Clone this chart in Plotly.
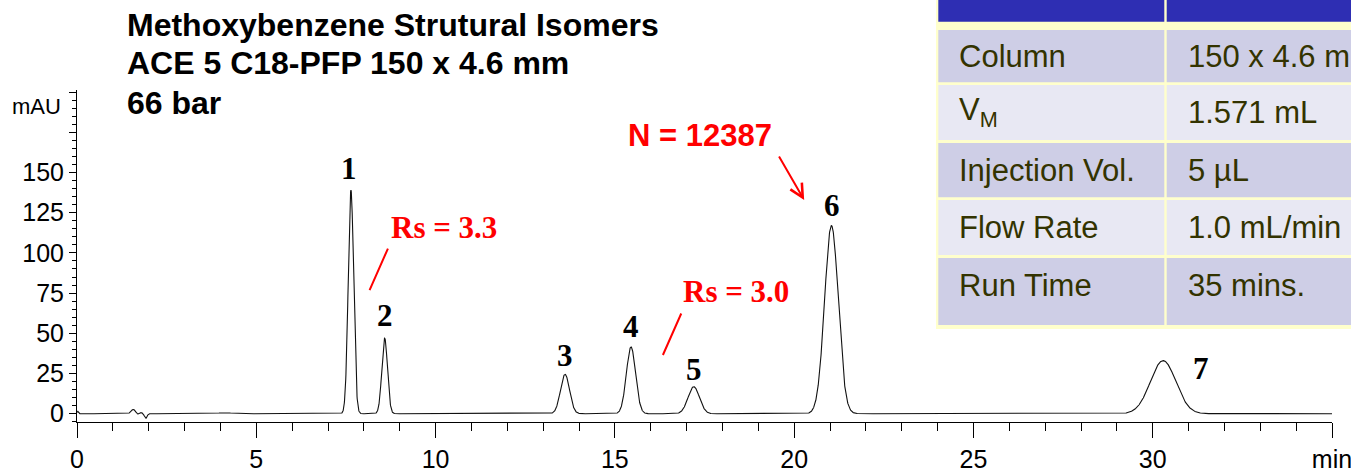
import numpy as np
import plotly.graph_objects as go

# ---------------- data ----------------
peak_labels = ["1", "2", "3", "4", "5", "6", "7"]
peak_times = [7.64, 8.58, 13.61, 15.45, 17.20, 21.04, 30.29]      # min
peak_heights = [139.0, 47.0, 24.5, 41.5, 16.8, 117.0, 33.0]       # mAU
peak_sigmas = [0.075, 0.078, 0.126, 0.128, 0.158, 0.19, 0.355]    # min

# small baseline disturbances (injection / solvent front)
dist_times = [0.02, 0.93, 1.57, 1.68, 1.79, 1.92, 4.10]
dist_heights = [1.5, 0.3, 2.7, -0.6, 0.7, -2.9, 0.6]
dist_sigmas = [0.02, 0.06, 0.06, 0.03, 0.03, 0.035, 0.20]

# peak-number label positions (min, mAU)
label_x = [7.59, 8.58, 13.62, 15.46, 17.20, 21.06, 31.35]
label_y = [152.6, 60.8, 36.0, 54.1, 27.2, 129.3, 28.2]

x_tick_vals = [0, 5, 10, 15, 20, 25, 30, 35]
x_tick_text = ["0", "5", "10", "15", "20", "25", "30", "min"]
y_tick_vals = [0, 25, 50, 75, 100, 125, 150, 175, 200]
y_tick_text = ["0", "25", "50", "75", "100", "125", "150", "", ""]

title_lines = ["Methoxybenzene Strutural Isomers", "ACE 5 C18-PFP 150 x 4.6 mm", "66 bar"]

table_params = ["Column", "V<sub>M</sub>", "Injection Vol.", "Flow Rate", "Run Time"]
table_values = ["150 x 4.6 mm", "1.571 mL", "5 µL", "1.0 mL/min", "35 mins."]

# ---------------- build trace ----------------
t = np.linspace(0, 35, 7001)
signal = np.zeros_like(t)
for tr, h, s in zip(peak_times + dist_times, peak_heights + dist_heights, peak_sigmas + dist_sigmas):
    signal += h * np.exp(-0.5 * ((t - tr) / s) ** 2)

fig = go.Figure()
fig.add_trace(go.Scatter(x=t, y=signal, mode="lines",
                         line=dict(color="#111111", width=1.1), hoverinfo="skip"))

# ---------------- layout geometry ----------------
W, H = 1351, 470
ML, MR, MT, MB = 77, 19, 90, 48
PW, PH = W - ML - MR, H - MT - MB


def px(xpix):
    return (xpix - ML) / PW


def py(ypix):
    return (H - MB - ypix) / PH


SANS = "Liberation Sans, Arial, sans-serif"
SERIF = "Liberation Serif, Times New Roman, serif"

fig.update_layout(
    width=W, height=H, autosize=False, showlegend=False, hovermode=False,
    margin=dict(l=ML, r=MR, t=MT, b=MB, pad=0),
    paper_bgcolor="white", plot_bgcolor="white",
    xaxis=dict(range=[0, 35], tickmode="array", tickvals=x_tick_vals, ticktext=x_tick_text,
               ticks="outside", ticklen=15, tickwidth=1, tickcolor="black",
               minor=dict(dtick=1, tick0=0, ticks="outside", ticklen=8, tickwidth=1, tickcolor="black"),
               showline=True, linecolor="black", linewidth=1, showgrid=False, zeroline=False,
               automargin=False, ticklabeloverflow="allow",
               tickfont=dict(family=SANS, size=25, color="black")),
    yaxis=dict(range=[-5.16, 201.3], tickmode="array", tickvals=y_tick_vals, ticktext=y_tick_text,
               ticks="outside", ticklen=7, tickwidth=1, tickcolor="black",
               minor=dict(dtick=5, tick0=0, ticks="outside", ticklen=4, tickwidth=1, tickcolor="black"),
               showline=True, linecolor="black", linewidth=1, showgrid=False, zeroline=False,
               automargin=False, ticklabeloverflow="allow",
               tickfont=dict(family=SANS, size=25, color="black")),
)

shapes = []
annotations = []

# ---------------- table (top right) ----------------
YELLOW = "#FFFFCC"
BLUE = "#2E2EB3"
DARK = "#CECEE6"
LIGHT = "#E8E8F3"
shapes.append(dict(type="rect", xref="paper", yref="paper", x0=px(936), x1=px(1370),
                   y0=py(329), y1=py(-5), fillcolor=YELLOW, line=dict(width=0), layer="above"))
col_x = [(938.3, 1164.3), (1166.7, 1370)]
for cx0, cx1 in col_x:
    shapes.append(dict(type="rect", xref="paper", yref="paper", x0=px(cx0), x1=px(cx1),
                       y0=py(21.7), y1=py(-5), fillcolor=BLUE, line=dict(width=0), layer="above"))
row_y = [(30, 82.3), (85, 140), (143, 197.3), (200, 255), (258, 325)]
row_text_y = [56, 112, 170, 228, 285]
for i, (ry0, ry1) in enumerate(row_y):
    col = DARK if i % 2 == 0 else LIGHT
    for cx0, cx1 in col_x:
        shapes.append(dict(type="rect", xref="paper", yref="paper", x0=px(cx0), x1=px(cx1),
                           y0=py(ry1), y1=py(ry0), fillcolor=col, line=dict(width=0), layer="above"))
    annotations.append(dict(xref="paper", yref="paper", x=px(957), y=py(row_text_y[i]),
                            xanchor="left", yanchor="middle", text=table_params[i], showarrow=False,
                            font=dict(family=SANS, size=31, color="#333300")))
    annotations.append(dict(xref="paper", yref="paper", x=px(1186), y=py(row_text_y[i]),
                            xanchor="left", yanchor="middle", text=table_values[i], showarrow=False,
                            font=dict(family=SANS, size=31, color="#333300")))

# ---------------- title ----------------
title_y = [24.7, 63.3, 103.3]
for line, ty in zip(title_lines, title_y):
    annotations.append(dict(xref="paper", yref="paper", x=px(125), y=py(ty), xanchor="left",
                            yanchor="middle", text="<b>" + line + "</b>", showarrow=False,
                            font=dict(family=SANS, size=32, color="black")))

# axis unit label
annotations.append(dict(xref="paper", yref="paper", x=px(63), y=py(107), xanchor="right",
                        yanchor="middle", text="mAU", showarrow=False,
                        font=dict(family=SANS, size=22, color="black")))

# ---------------- peak numbers ----------------
for lab, lx, ly in zip(peak_labels, label_x, label_y):
    annotations.append(dict(x=lx, y=ly, xref="x", yref="y", text="<b>" + lab + "</b>", showarrow=False,
                            xanchor="center", yanchor="middle",
                            font=dict(family=SERIF, size=31, color="black")))

RED = "#FF0000"
# Resolution notes
annotations.append(dict(x=10.24, y=115.5, xref="x", yref="y", text="<b>Rs = 3.3</b>", showarrow=False,
                        font=dict(family=SERIF, size=31, color=RED)))
annotations.append(dict(x=8.16, y=76.9, xref="x", yref="y", text="", showarrow=True, arrowhead=0,
                        ax=19, ay=-43, arrowcolor=RED, arrowwidth=2))
annotations.append(dict(x=18.38, y=75.7, xref="x", yref="y", text="<b>Rs = 3.0</b>", showarrow=False,
                        font=dict(family=SERIF, size=31, color=RED)))
annotations.append(dict(x=16.34, y=36.5, xref="x", yref="y", text="", showarrow=True, arrowhead=0,
                        ax=19, ay=-43, arrowcolor=RED, arrowwidth=2))
# plate count
annotations.append(dict(x=17.38, y=173.3, xref="x", yref="y", text="<b>N = 12387</b>", showarrow=False,
                        font=dict(family=SANS, size=31, color=RED)))
annotations.append(dict(x=20.28, y=132.9, xref="x", yref="y", text="", showarrow=True, arrowhead=5,
                        arrowsize=1.3, ax=-26, ay=-45, arrowcolor=RED, arrowwidth=2))

fig.update_layout(shapes=shapes, annotations=annotations)
fig.write_html("out.html", config={"displayModeBar": False, "staticPlot": True},
               post_script="document.body.style.margin='0px';document.body.style.overflow='hidden';")
